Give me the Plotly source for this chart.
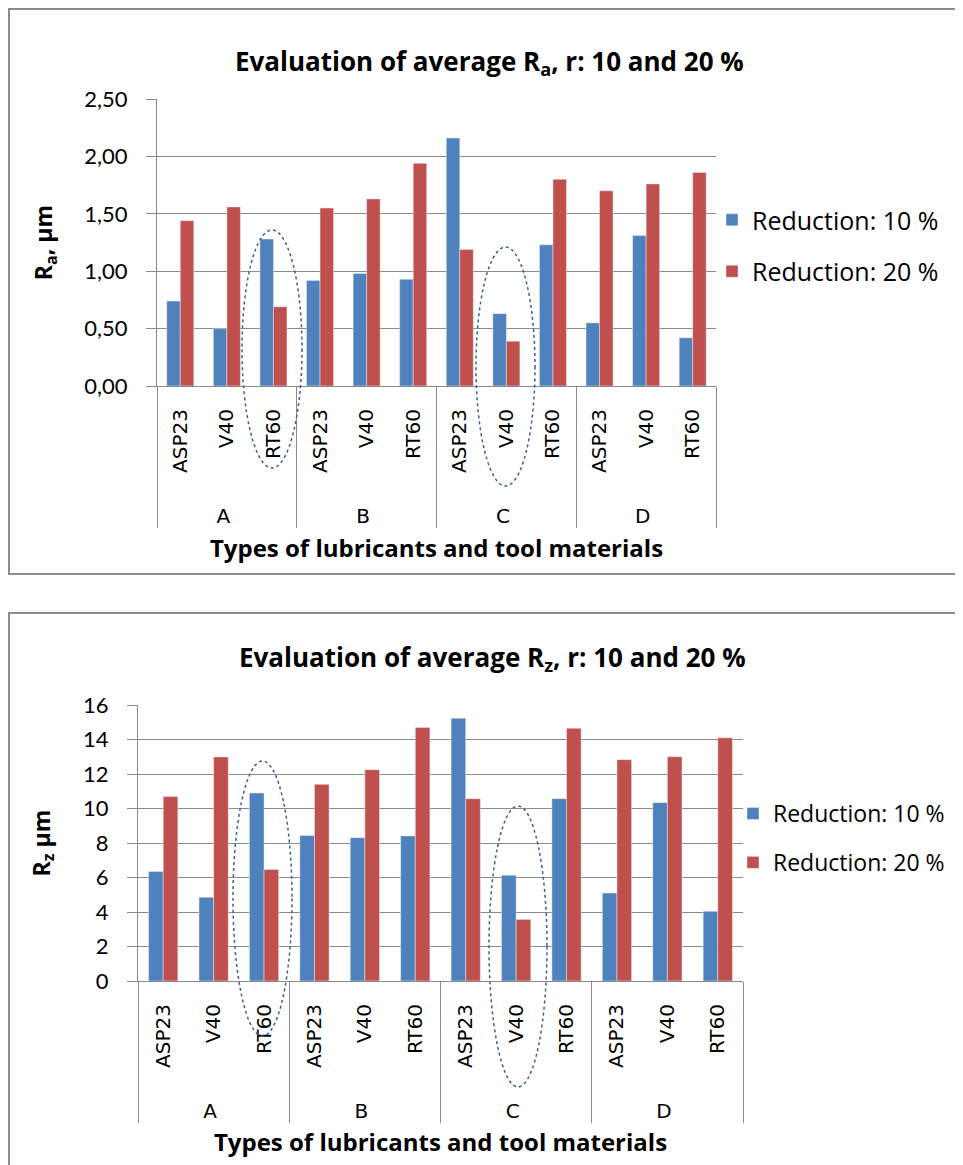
import plotly.graph_objects as go

# ---------------- data ----------------
lubricants = ["A", "A", "A", "B", "B", "B", "C", "C", "C", "D", "D", "D"]
materials = ["ASP23", "V40", "RT60"] * 4
series_names = ["Reduction: 10 %", "Reduction: 20 %"]
ra_10 = [0.74, 0.50, 1.28, 0.92, 0.98, 0.93, 2.16, 0.63, 1.23, 0.55, 1.31, 0.42]
ra_20 = [1.44, 1.56, 0.69, 1.55, 1.63, 1.94, 1.19, 0.39, 1.80, 1.70, 1.76, 1.86]
rz_10 = [6.35, 4.85, 10.90, 8.43, 8.31, 8.41, 15.23, 6.13, 10.57, 5.10, 10.34, 4.04]
rz_20 = [10.69, 12.99, 6.47, 11.40, 12.25, 14.70, 10.57, 3.57, 14.65, 12.83, 13.00, 14.10]
ra_ticks = [0, 0.5, 1.0, 1.5, 2.0, 2.5]
rz_ticks = [0, 2, 4, 6, 8, 10, 12, 14, 16]

W, H = 963, 1165
OFF = 8  # page body margin
BLUE = "#4F81BD"
RED = "#C0504D"
GRID = "#8A8A8A"
FONT = "Lato"
TFONT = "Open Sans"


def px(x):
    return (x - OFF) / W


def py(y):
    return 1 - (y - OFF) / H


# outer level labels are pushed one line down (Excel-like spacing)
group_labels = ["<br>" + g for g in lubricants]
xcat = [group_labels, materials]

fig = go.Figure()
fig.add_trace(go.Bar(x=xcat, y=ra_10, name=series_names[0], marker_color=BLUE,
                     xaxis="x", yaxis="y", legend="legend", legendgroup="a1"))
fig.add_trace(go.Bar(x=xcat, y=ra_20, name=series_names[1], marker_color=RED,
                     xaxis="x", yaxis="y", legend="legend", legendgroup="a2"))
fig.add_trace(go.Bar(x=xcat, y=rz_10, name=series_names[0], marker_color=BLUE,
                     xaxis="x2", yaxis="y2", legend="legend2", legendgroup="b1"))
fig.add_trace(go.Bar(x=xcat, y=rz_20, name=series_names[1], marker_color=RED,
                     xaxis="x2", yaxis="y2", legend="legend2", legendgroup="b2"))

xcommon = dict(type="multicategory", showline=True, linecolor=GRID, linewidth=1,
               showdividers=True, dividercolor=GRID, dividerwidth=1,
               tickangle=-90, ticklabelstandoff=14,
               tickfont=dict(family="DejaVu Sans", size=20, color="#000"),
               showgrid=False, ticks="", automargin=False)
ycommon = dict(showline=True, linecolor=GRID, linewidth=1, ticks="outside",
               ticklen=10, tickcolor=GRID, gridcolor=GRID, gridwidth=1,
               ticklabelstandoff=14, automargin=False,
               tickfont=dict(family=FONT, size=22, color="#000"), zeroline=False)

fig.update_layout(
    width=W, height=H,
    margin=dict(l=0, r=0, t=0, b=0, autoexpand=False),
    paper_bgcolor="white", plot_bgcolor="white",
    separators=", ",
    barmode="group", bargap=0.42, bargroupgap=0,
    font=dict(family=FONT, color="#000"),
    xaxis=dict(domain=[px(157), px(716)], anchor="y",
               title=dict(text="<b>Types of lubricants and tool materials</b>",
                          font=dict(family=TFONT, size=24), standoff=13), **xcommon),
    yaxis=dict(domain=[py(386), py(99)], anchor="x", range=[0, 2.5],
               tickvals=ra_ticks, tickformat=".2f",
               title=dict(text="<b>R<sub>a</sub>, µm</b>", font=dict(family=TFONT, size=23),
                          standoff=25), **ycommon),
    xaxis2=dict(domain=[px(138), px(743)], anchor="y2",
                title=dict(text="<b>Types of lubricants and tool materials</b>",
                           font=dict(family=TFONT, size=24), standoff=12), **xcommon),
    yaxis2=dict(domain=[py(981), py(705)], anchor="x2", range=[0, 16],
                tickvals=rz_ticks,
                title=dict(text="<b>R<sub>z</sub> µm</b>", font=dict(family=TFONT, size=23),
                           standoff=26), **ycommon),
    legend=dict(x=px(712), y=py(197), xanchor="left", yanchor="top",
                font=dict(family=TFONT, size=25), tracegroupgap=16,
                bgcolor="rgba(0,0,0,0)"),
    legend2=dict(x=px(733), y=py(792), xanchor="left", yanchor="top",
                 font=dict(family=TFONT, size=23), tracegroupgap=16,
                 bgcolor="rgba(0,0,0,0)"),
)

# titles
fig.add_annotation(text="<b>Evaluation of average R<sub>a</sub>, r: 10 and 20 %</b>",
                   xref="paper", yref="paper", x=px(489), y=py(62), showarrow=False,
                   xanchor="center", yanchor="middle",
                   font=dict(family=TFONT, size=26))
fig.add_annotation(text="<b>Evaluation of average R<sub>z</sub>, r: 10 and 20 %</b>",
                   xref="paper", yref="paper", x=px(492), y=py(658), showarrow=False,
                   xanchor="center", yanchor="middle",
                   font=dict(family=TFONT, size=26))

# chart borders
for (x0, y0, x1, y1) in [(9, 9, 961, 574), (9, 613, 961, 1180)]:
    fig.add_shape(type="rect", xref="paper", yref="paper",
                  x0=px(x0), x1=px(x1), y0=py(y1), y1=py(y0),
                  line=dict(color="#8C8C8C", width=2), fillcolor="rgba(0,0,0,0)")

# dotted ellipses highlighting
for (x0, y0, x1, y1) in [(242, 230, 302, 468), (476, 247, 535, 486),
                         (233, 761, 292, 1036), (489, 806, 547, 1087)]:
    fig.add_shape(type="circle", xref="paper", yref="paper",
                  x0=px(x0), x1=px(x1), y0=py(y1), y1=py(y0),
                  line=dict(color="#3E5F8F", width=1.5, dash="dot"),
                  fillcolor="rgba(0,0,0,0)", layer="above")

fig.write_html("out.html")
